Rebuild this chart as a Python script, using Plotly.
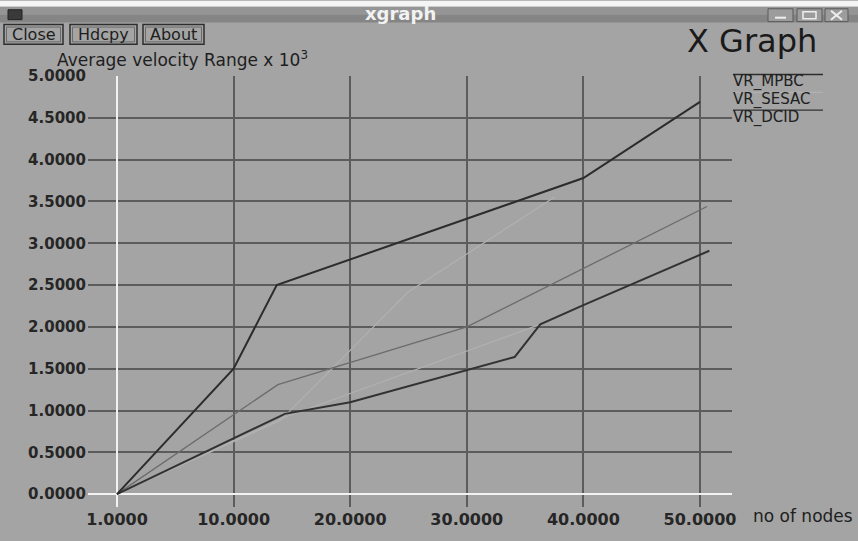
import plotly.graph_objects as go

# ---- data: average velocity range (x 10^3) against number of nodes ----
nodes_mpbc = [0, 10, 13.7, 40, 50]
vr_mpbc = [0, 1.5, 2.5, 3.78, 4.69]

nodes_sesac = [0, 13.8, 30, 50.6]
vr_sesac = [0, 1.31, 2.0, 3.44]

nodes_dcid = [0, 14.4, 20, 34.1, 36.3, 40, 50.8]
vr_dcid = [0, 0.96, 1.10, 1.64, 2.03, 2.26, 2.91]

# faint auxiliary traces
nodes_aux_a = [0, 14, 25, 37.5]
vr_aux_a = [0, 0.88, 2.42, 3.55]
nodes_aux_b = [0, 14.4, 36.3]
vr_aux_b = [0, 0.92, 2.03]

x_tickvals = [0, 10, 20, 30, 40, 50]
x_ticktext = ["1.0000", "10.0000", "20.0000", "30.0000", "40.0000", "50.0000"]
y_tickvals = [i * 0.5 for i in range(11)]
y_ticktext = ["%.4f" % v for v in y_tickvals]

legend_names = ["VR_MPBC", "VR_SESAC", "VR_DCID"]

W, H = 858, 541
L, R, T, B = 88, 732, 76, 512
BG = "#a4a4a4"
FONT = "DejaVu Sans"
FAINT = "#b1b1b1"


def X(px):
    return (px - L) / (R - L)


def Y(py):
    return (B - py) / (B - T)


def label(text, px, py, size, anchor="center", color="#1e1e1e"):
    return dict(text=text, xref="paper", yref="paper", x=X(px), y=Y(py),
                xanchor=anchor, yanchor="middle", showarrow=False,
                font=dict(family=FONT, size=size, color=color))


fig = go.Figure()
fig.add_trace(go.Scatter(x=nodes_aux_a, y=vr_aux_a, mode="lines",
                         line=dict(color=FAINT, width=1.2), name="aux_a"))
fig.add_trace(go.Scatter(x=nodes_aux_b, y=vr_aux_b, mode="lines",
                         line=dict(color=FAINT, width=1.2), name="aux_b"))
fig.add_trace(go.Scatter(x=nodes_sesac, y=vr_sesac, mode="lines",
                         line=dict(color="#6c6c6c", width=1.3), name=legend_names[1]))
fig.add_trace(go.Scatter(x=nodes_dcid, y=vr_dcid, mode="lines",
                         line=dict(color="#323232", width=2), name=legend_names[2]))
fig.add_trace(go.Scatter(x=nodes_mpbc, y=vr_mpbc, mode="lines",
                         line=dict(color="#2c2c2c", width=2), name=legend_names[0]))

shapes = []
annotations = []

# window title bar
shapes.append(dict(type="rect", xref="paper", yref="paper", x0=X(0), x1=X(W),
                   y0=Y(0), y1=Y(6), fillcolor="#f4f4f4", line_width=0, layer="below"))
shapes.append(dict(type="rect", xref="paper", yref="paper", x0=X(0), x1=X(W),
                   y0=Y(6), y1=Y(14), fillcolor="#959595", line_width=0, layer="below"))
shapes.append(dict(type="rect", xref="paper", yref="paper", x0=X(0), x1=X(W),
                   y0=Y(14), y1=Y(22), fillcolor="#858585", line_width=0, layer="below"))
shapes.append(dict(type="rect", xref="paper", yref="paper", x0=X(8), x1=X(22),
                   y0=Y(9), y1=Y(19), fillcolor="#3a3a3a", line=dict(color="#222", width=1)))
annotations.append(label("<b>xgraph</b>", 400, 13, 18, color="#f2f2f2"))

# window control buttons
for x0, x1 in [(768, 793), (797, 822), (825, 848)]:
    shapes.append(dict(type="rect", xref="paper", yref="paper", x0=X(x0), x1=X(x1),
                       y0=Y(8), y1=Y(21), fillcolor="#9c9c9c", line=dict(color="#5a5a5a", width=1)))
shapes.append(dict(type="line", xref="paper", yref="paper", x0=X(775), x1=X(786),
                   y0=Y(17), y1=Y(17), line=dict(color="#eee", width=2)))
shapes.append(dict(type="rect", xref="paper", yref="paper", x0=X(803), x1=X(816),
                   y0=Y(11), y1=Y(18), line=dict(color="#eee", width=1.5)))
shapes.append(dict(type="line", xref="paper", yref="paper", x0=X(831), x1=X(842),
                   y0=Y(10), y1=Y(19), line=dict(color="#eee", width=2)))
shapes.append(dict(type="line", xref="paper", yref="paper", x0=X(831), x1=X(842),
                   y0=Y(19), y1=Y(10), line=dict(color="#eee", width=2)))

# command buttons
for text, x0, x1 in [("Close", 4, 63), ("Hdcpy", 70, 137), ("About", 143, 204)]:
    shapes.append(dict(type="rect", xref="paper", yref="paper", x0=X(x0), x1=X(x1),
                       y0=Y(24), y1=Y(44), line=dict(color="#2e2e2e", width=1.5)))
    shapes.append(dict(type="rect", xref="paper", yref="paper", x0=X(x0 + 2.5), x1=X(x1 - 2.5),
                       y0=Y(26.5), y1=Y(41.5), line=dict(color="#6a6a6a", width=1)))
    annotations.append(label(text, (x0 + x1) / 2, 34, 16))

annotations.append(label("X Graph", 752, 41, 32, color="#1a1a1a"))
annotations.append(label("Average velocity Range x 10<sup>3</sup>", 55, 59, 17, anchor="left"))
annotations.append(label("no of nodes", 751, 521, 17, anchor="left"))

# legend: line sample drawn over each name
legend_rows = [(legend_names[0], 82, "#2c2c2c"), (legend_names[1], 100, FAINT),
               (legend_names[2], 118, "#323232")]
for name, yc, col in legend_rows:
    shapes.append(dict(type="line", xref="paper", yref="paper", x0=X(733), x1=X(823),
                       y0=Y(yc - 7.5), y1=Y(yc - 7.5), line=dict(color=col, width=1.3)))
    annotations.append(label(name, 731, yc, 15, anchor="left", color="#202020"))

fig.update_layout(
    width=W, height=H, autosize=False,
    margin=dict(l=L, r=W - R, t=T, b=H - B, pad=0),
    paper_bgcolor=BG, plot_bgcolor=BG,
    showlegend=False,
    shapes=shapes, annotations=annotations,
    xaxis=dict(range=[(L - 117) / 11.66, (R - 117) / 11.66], tickvals=x_tickvals,
               ticktext=x_ticktext, ticks="", showline=False,
               showgrid=True, gridcolor="#5c5c5c", gridwidth=1.5,
               zeroline=True, zerolinecolor="#f2f2f2", zerolinewidth=2,
               tickfont=dict(family=FONT, size=16, color="#262626", weight="bold"),
               ticklabelstandoff=1),
    yaxis=dict(range=[(499 - B) / 84.6, 5.0], tickvals=y_tickvals, ticktext=y_ticktext,
               ticks="", showline=False,
               showgrid=True, gridcolor="#5c5c5c", gridwidth=1.5,
               zeroline=True, zerolinecolor="#f2f2f2", zerolinewidth=2,
               tickfont=dict(family=FONT, size=15, color="#262626", weight="bold"),
               ticklabelstandoff=1),
)

fig.write_html("out.html")
